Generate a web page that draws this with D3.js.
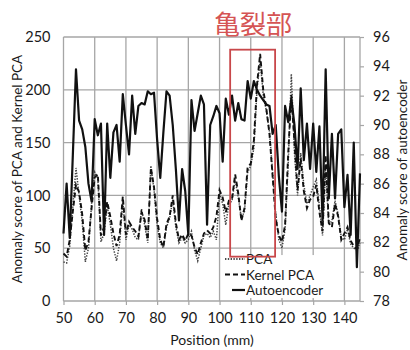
<!DOCTYPE html>
<html>
<head>
<meta charset="utf-8">
<script src="https://cdn.jsdelivr.net/npm/d3@7"></script>
<style>
    body { margin: 0; background: #fff; }
    text { font-family: Lato, 'Noto Sans', sans-serif; fill: #1a1a1a; }
</style>
</head>
<body>
<svg id="chart"></svg>
<script>
// positions along the specimen (mm)
let positions = [50, 51, 52, 53, 54, 55, 56, 57, 58, 59, 60, 61, 62, 63, 64, 65, 66, 67, 68, 69,
    70, 71, 72, 73, 74, 75, 76, 77, 78, 79, 80, 81, 82, 83, 84, 85, 86, 87, 88, 89,
    90, 91, 92, 93, 94, 95, 96, 97, 98, 99, 100, 101, 102, 103, 104, 105, 106, 107, 108, 109,
    110, 111, 112, 113, 114, 115, 116, 117, 118, 119, 120, 121, 122, 123, 124, 125, 126, 127, 128, 129,
    130, 131, 132, 133, 134, 135, 136, 137, 138, 139, 140, 141, 142, 143, 144, 145];

let pcaScore = [37, 36, 52, 90, 126, 100, 75, 37, 50, 92, 122, 116, 56, 64, 90, 73, 50, 38, 55, 95,
    58, 72, 68, 60, 58, 87, 72, 55, 128, 105, 72, 55, 50, 70, 78, 96, 70, 55, 60, 55,
    58, 66, 48, 38, 50, 62, 64, 60, 66, 58, 102, 92, 72, 92, 95, 115, 98, 78, 85, 122,
    128, 145, 200, 228, 195, 180, 160, 122, 82, 58, 50, 68, 130, 215, 140, 100, 140, 110, 92, 100,
    108, 115, 90, 62, 125, 72, 76, 95, 82, 60, 58, 68, 54, 50, 48, 55];

let kernelPcaScore = [45, 42, 58, 85, 110, 103, 82, 48, 56, 88, 117, 120, 62, 70, 94, 80, 64, 52, 63, 99,
    63, 75, 70, 66, 61, 84, 77, 58, 126, 108, 78, 58, 51, 73, 80, 100, 74, 58, 63, 57,
    64, 62, 51, 44, 55, 64, 67, 64, 70, 80, 105, 98, 84, 95, 97, 120, 102, 76, 88, 127,
    130, 152, 205, 234, 200, 182, 158, 118, 78, 62, 56, 72, 140, 195, 150, 105, 135, 104, 88, 96,
    99, 110, 84, 66, 138, 74, 70, 92, 80, 58, 64, 70, 57, 52, 49, 60];

let autoencoderScore = [82.6, 86.0, 82.3, 88.0, 93.8, 90.3, 89.7, 88.5, 86.0, 84.8, 90.4, 89.3, 90.1, 82.5, 90.1, 86.4, 89.5, 90.0, 87.5, 92.1,
    90.0, 88.0, 92.0, 89.4, 91.3, 91.5, 91.4, 92.3, 92.1, 92.2, 89.0, 86.4, 89.5, 92.3, 92.0, 90.0, 87.0, 83.5, 87.0, 85.5,
    82.5, 91.7, 89.6, 90.8, 92.0, 91.4, 83.2, 90.0, 90.6, 91.3, 90.8, 87.5, 91.8, 90.7, 92.0, 90.3, 91.5, 90.4, 90.3, 93.0,
    91.8, 93.0, 92.4, 92.0, 91.7, 91.4, 91.3, 89.4, 90.0, 86.5, 84.1, 91.3, 90.2, 91.8, 90.0, 87.0, 92.5, 87.6, 90.1, 87.0,
    90.1, 86.8, 89.9, 83.5, 93.8, 85.0, 89.4, 85.0, 89.4, 89.7, 84.4, 86.6, 82.5, 88.8, 80.3, 86.7];

let xTicks = [50, 60, 70, 80, 90, 100, 110, 120, 130, 140];
let leftTicks = [0, 50, 100, 150, 200, 250];
let rightTicks = [78, 80, 82, 84, 86, 88, 90, 92, 94, 96];
let crackRange = [103.4, 117.8];
let crackScoreRange = [42, 238];
let legendNames = ['PCA', 'Kernel PCA', 'Autoencoder'];

let width = 410,
    height = 350;

let margin = {
    left: 63.5,
    right: 50,
    top: 37,
    bottom: 49
};

let svg = d3.select('#chart')
    .attr('width', width)
    .attr('height', height);

let scaleX = d3.scaleLinear()
    .domain([50, 145])
    .range([margin.left, width - margin.right]);

let scaleYL = d3.scaleLinear()
    .domain([0, 250])
    .range([height - margin.bottom, margin.top]);

let scaleYR = d3.scaleLinear()
    .domain([78, 96])
    .range([height - margin.bottom, margin.top]);

let gridColor = '#a6a6a6';

// grid
svg.append('g')
    .selectAll('line')
    .data(xTicks)
    .enter()
    .append('line')
    .attr('x1', d => scaleX(d))
    .attr('x2', d => scaleX(d))
    .attr('y1', scaleYL(0))
    .attr('y2', scaleYL(250))
    .attr('stroke', gridColor)
    .attr('stroke-width', 1.3);

svg.append('g')
    .selectAll('line')
    .data(leftTicks)
    .enter()
    .append('line')
    .attr('x1', scaleX(50))
    .attr('x2', scaleX(145))
    .attr('y1', d => scaleYL(d))
    .attr('y2', d => scaleYL(d))
    .attr('stroke', gridColor)
    .attr('stroke-width', 1.3);

svg.append('line')
    .attr('x1', scaleX(145))
    .attr('x2', scaleX(145))
    .attr('y1', scaleYL(0))
    .attr('y2', scaleYL(250))
    .attr('stroke', gridColor)
    .attr('stroke-width', 1.3);

// axes
let xAxis = d3.axisBottom(scaleX)
    .tickValues(xTicks)
    .tickSize(4)
    .tickPadding(8);

let xAxisG = svg.append('g')
    .attr('transform', `translate(0, ${scaleYL(0)})`)
    .call(xAxis);

let yAxisL = d3.axisLeft(scaleYL)
    .tickValues(leftTicks)
    .tickSize(0)
    .tickPadding(13);

let yAxisLG = svg.append('g')
    .attr('transform', `translate(${margin.left}, 0)`)
    .call(yAxisL);

let yAxisR = d3.axisRight(scaleYR)
    .tickValues(rightTicks)
    .tickSize(4)
    .tickPadding(9);

let yAxisRG = svg.append('g')
    .attr('transform', `translate(${width - margin.right}, 0)`)
    .call(yAxisR);

[xAxisG, yAxisLG, yAxisRG].forEach(g => {
    g.select('.domain').remove();
    g.selectAll('.tick line').attr('stroke', gridColor).attr('stroke-width', 1.2);
    g.selectAll('.tick text')
        .style('font-family', 'Lato, sans-serif')
        .style('font-size', '14.5px')
        .attr('fill', '#1a1a1a');
});

// lines
let lineL = (values) => d3.line()
    .x((d, i) => scaleX(positions[i]))
    .y(d => scaleYL(d))(values);

let lineR = d3.line()
    .x((d, i) => scaleX(positions[i]))
    .y(d => scaleYR(d));

svg.append('path')
    .attr('d', lineL(pcaScore))
    .attr('fill', 'none')
    .attr('stroke', '#444')
    .attr('stroke-width', 1.5)
    .attr('stroke-dasharray', '1.4,1.4');

svg.append('path')
    .attr('d', lineL(kernelPcaScore))
    .attr('fill', 'none')
    .attr('stroke', '#111')
    .attr('stroke-width', 1.9)
    .attr('stroke-dasharray', '5,3');

svg.append('path')
    .attr('d', lineR(autoencoderScore))
    .attr('fill', 'none')
    .attr('stroke', '#111')
    .attr('stroke-width', 2.2)
    .attr('stroke-linejoin', 'round');

// legend
let legend = svg.append('g');

legend.append('rect')
    .attr('x', scaleX(102.5))
    .attr('y', scaleYL(43.5))
    .attr('width', 92)
    .attr('height', 43)
    .attr('fill', '#fff');

let legendStyles = [
    { dash: '1.4,1.4', w: 1.5, x0: 225 },
    { dash: '5,3', w: 1.9, x0: 225 },
    { dash: null, w: 2.2, x0: 232 }
];

legendNames.forEach((name, i) => {
    let y = 259 + i * 15.5;
    legend.append('line')
        .attr('x1', legendStyles[i].x0)
        .attr('x2', 245)
        .attr('y1', y)
        .attr('y2', y)
        .attr('stroke', '#111')
        .attr('stroke-width', legendStyles[i].w)
        .attr('stroke-dasharray', legendStyles[i].dash);
    legend.append('text')
        .attr('x', 246)
        .attr('y', y + 5)
        .style('font-size', '13.5px')
        .text(name);
});

// crack region
svg.append('rect')
    .attr('x', scaleX(crackRange[0]))
    .attr('y', scaleYL(crackScoreRange[1]))
    .attr('width', scaleX(crackRange[1]) - scaleX(crackRange[0]))
    .attr('height', scaleYL(crackScoreRange[0]) - scaleYL(crackScoreRange[1]))
    .attr('fill', 'none')
    .attr('stroke', '#c8474a')
    .attr('stroke-width', 1.8);

svg.append('text')
    .attr('x', 253)
    .attr('y', 34)
    .attr('text-anchor', 'middle')
    .style('font-family', "'Noto Sans CJK JP', sans-serif")
    .style('font-size', '26px')
    .style('fill', '#d55454')
    .text('亀裂部');

// axis titles
svg.append('text')
    .attr('transform', `translate(22, ${(margin.top + height - margin.bottom) / 2}) rotate(-90)`)
    .attr('text-anchor', 'middle')
    .style('font-size', '13.5px')
    .text('Anomaly score of PCA and Kernel PCA');

svg.append('text')
    .attr('transform', `translate(407, ${(margin.top + height - margin.bottom) / 2 + 1}) rotate(-90)`)
    .attr('text-anchor', 'middle')
    .style('font-size', '13.5px')
    .text('Anomaly score of autoencoder');

svg.append('text')
    .attr('x', 212)
    .attr('y', 345)
    .attr('text-anchor', 'middle')
    .style('font-size', '14px')
    .text('Position (mm)');
</script>
</body>
</html>
